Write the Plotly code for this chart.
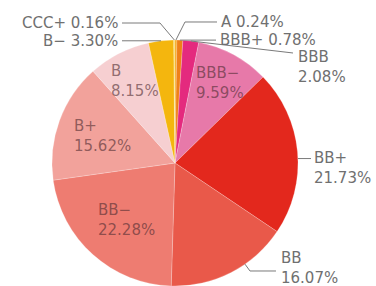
import math
import plotly.graph_objects as go

# ---- data ----
labels = ["A", "BBB+", "BBB", "BBB−", "BB+", "BB", "BB−", "B+", "B", "B−", "CCC+"]
values = [0.24, 0.78, 2.08, 9.59, 21.73, 16.07, 22.28, 15.62, 8.15, 3.30, 0.16]
value_text = ["0.24%", "0.78%", "2.08%", "9.59%", "21.73%", "16.07%", "22.28%", "15.62%", "8.15%", "3.30%", "0.16%"]
colors = ["#f6a000", "#ef8018", "#e42a7e", "#e779a9", "#e3281d", "#e9594a",
          "#ee7c71", "#f2a29b", "#f6cfd1", "#f4b60e", "#f8dc7a"]

# ---- layout geometry (pixels) ----
W, H = 376, 286
CX, CY, R = 175, 163, 123

def px(x):
    return x / W

def py(y):
    return 1 - y / H

total = sum(values)

def edge(i, frac=0.5, rr=1.0):
    cum = sum(values[:i]) + frac * values[i]
    th = cum / total * 2 * math.pi
    return (CX + rr * R * math.sin(th), CY - rr * R * math.cos(th))

fig = go.Figure(go.Pie(
    labels=labels, values=values, sort=False, direction="clockwise", rotation=0,
    marker=dict(colors=colors, line=dict(color="rgba(255,255,255,0.35)", width=0.6)),
    textinfo="none", hoverinfo="none", showlegend=False,
    domain=dict(x=[px(CX - R), px(CX + R)], y=[py(CY + R), py(CY - R)]),
))

# ---- leader lines ----
def path(points):
    d = "M " + " L ".join(f"{px(x):.5f},{py(y):.5f}" for x, y in points)
    return dict(type="path", path=d, xref="paper", yref="paper",
                line=dict(color="#7a7a7a", width=1))

idx = {l: i for i, l in enumerate(labels)}
e_ccc = edge(idx["CCC+"])
e_bm = edge(idx["B−"])
e_a = edge(idx["A"])
e_bbbp = edge(idx["BBB+"])
e_bbb = edge(idx["BBB"])
e_bbp = edge(idx["BB+"], 0.54)
e_bb = edge(idx["BB"], 0.37)
shapes = [
    path([e_ccc, (160, 23), (122, 23)]),
    path([e_bm, (122, e_bm[1])]),
    path([e_a, (185, 22), (217, 22)]),
    path([e_bbbp, (216, e_bbbp[1])]),
    path([e_bbb, (293, 53)]),
    path([e_bbp, (311, e_bbp[1])]),
    path([e_bb, (250, 271), (276, 271)]),
]

# ---- labels ----
OUT = "#707070"
IN = "rgba(80,45,50,0.62)"

def lab(i, x, y, two_lines, xanchor="left", color=OUT):
    sep = "<br>" if two_lines else " "
    return dict(text=labels[i] + sep + value_text[i], x=px(x), y=py(y),
                xref="paper", yref="paper", xanchor=xanchor, yanchor="middle",
                align="left" if xanchor == "left" else "right", showarrow=False,
                font=dict(family="DejaVu Sans", size=15, color=color))

annotations = [
    lab(idx["CCC+"], 120, 23, False, "right"),
    lab(idx["B−"], 120, 41, False, "right"),
    lab(idx["A"], 219, 22, False),
    lab(idx["BBB+"], 218, 40, False),
    lab(idx["BBB"], 296, 67, True),
    lab(idx["BBB−"], 194, 83, True, color=IN),
    lab(idx["B"], 109, 81, True, color=IN),
    lab(idx["B+"], 72, 136, True, color=IN),
    lab(idx["BB−"], 96, 220, True, color=IN),
    lab(idx["BB+"], 312, 168, True),
    lab(idx["BB"], 279, 268, True),
]

fig.update_layout(
    width=W, height=H, margin=dict(l=0, r=0, t=0, b=0),
    paper_bgcolor="white", plot_bgcolor="white",
    shapes=shapes, annotations=annotations,
)

fig.write_html("out.html", config={"displayModeBar": False},
               post_script="document.body.style.margin='0';")
